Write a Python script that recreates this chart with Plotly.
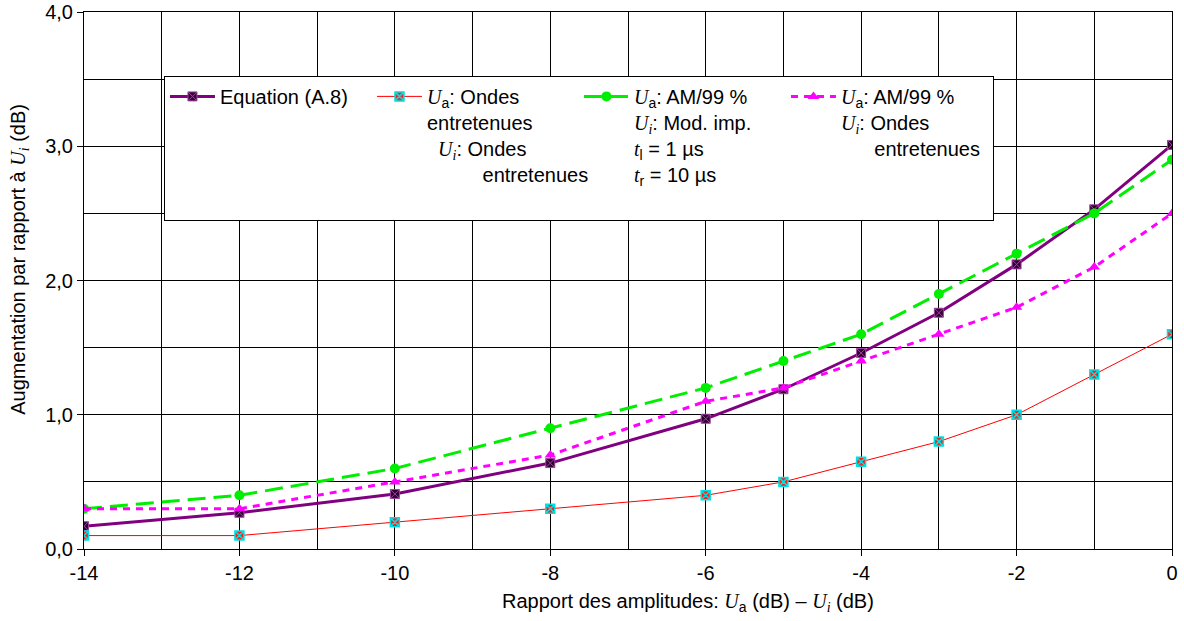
import plotly.graph_objects as go

# valeurs
x_db = [-14, -12, -10, -8, -6, -5, -4, -3, -2, -1, 0]
eq_a8 = [0.17, 0.27, 0.41, 0.64, 0.97, 1.19, 1.46, 1.76, 2.12, 2.53, 3.01]
ondes_ent = [0.10, 0.10, 0.20, 0.30, 0.40, 0.50, 0.65, 0.80, 1.00, 1.30, 1.60]
am99_mod = [0.30, 0.40, 0.60, 0.90, 1.20, 1.40, 1.60, 1.90, 2.20, 2.50, 2.90]
am99_ondes = [0.30, 0.30, 0.50, 0.70, 1.10, 1.20, 1.40, 1.60, 1.80, 2.10, 2.50]

x_ticks = [-14, -12, -10, -8, -6, -4, -2, 0]
x_ticktext = ['-14', '-12', '-10', '-8', '-6', '-4', '-2', '0']
y_ticks = [0, 1, 2, 3, 4]

FONT = 'Liberation Sans, Arial, sans-serif'
NB = '\u00a0'
SERIF = "<span style='font-family:Liberation Serif'>"


def U(sub, italic_sub=False):
    if italic_sub:
        return SERIF + '<i>U<sub>' + sub + '</sub></i></span>'
    return SERIF + '<i>U</i></span><sub>' + sub + '</sub>'


def T(sub):
    return SERIF + '<i>t</i></span><sub>' + sub + '</sub>'


fig = go.Figure()

fig.add_trace(go.Scatter(
    x=x_db, y=eq_a8, mode='lines+markers',
    name='Equation (A.8)',
    line=dict(color='#800080', width=3),
    marker=dict(symbol='square-x', size=9, color='#300030',
                line=dict(color='#a040a0', width=1))
))

fig.add_trace(go.Scatter(
    x=x_db, y=ondes_ent, mode='lines+markers',
    name=(U('a') + ': Ondes<br>entretenues<br>' + NB * 2 + U('i', True)
          + ': Ondes<br>' + NB * 10 + 'entretenues'),
    line=dict(color='#ff0000', width=1),
    marker=dict(symbol='square-x', size=9, color='#ff2020',
                line=dict(color='#00e0e0', width=1.5))
))

fig.add_trace(go.Scatter(
    x=x_db, y=am99_mod, mode='lines+markers',
    name=(U('a') + ': AM/99 %<br>' + U('i', True) + ': Mod. imp.<br>'
          + T('l') + ' = 1 µs<br>' + T('r') + ' = 10 µs<br>' + NB),
    line=dict(color='#00ee00', width=3, dash='18px,8px'),
    marker=dict(symbol='circle', size=10, color='#00ee00')
))

fig.add_trace(go.Scatter(
    x=x_db, y=am99_ondes, mode='lines+markers',
    name=(U('a') + ': AM/99 %<br>' + U('i', True) + ': Ondes<br>'
          + NB * 6 + 'entretenues'),
    line=dict(color='#ff00ff', width=3, dash='7px,6px'),
    marker=dict(symbol='triangle-up', size=10, color='#ff00ff')
))

fig.update_layout(
    width=1184, height=621,
    margin=dict(l=84, r=12, t=12, b=72),
    paper_bgcolor='white', plot_bgcolor='white',
    font=dict(family=FONT, size=20, color='black'),
    separators=', ',
    showlegend=True,
    legend=dict(
        orientation='h', x=0.0735, y=0.881, xanchor='left', yanchor='top',
        bgcolor='white', bordercolor='black', borderwidth=1,
        valign='top', entrywidth=147, entrywidthmode='pixels',
        font=dict(size=20), itemwidth=45
    ),
    xaxis=dict(
        range=[-14, 0], tickvals=x_ticks, ticktext=x_ticktext,
        ticks='outside', ticklen=6, tickcolor='black', automargin=False,
        showline=True, linecolor='black', linewidth=1, mirror=True,
        showgrid=True, gridcolor='black', gridwidth=1,
        minor=dict(dtick=1, showgrid=True, gridcolor='black', gridwidth=1),
        zeroline=False
    ),
    yaxis=dict(
        range=[0, 4], tickvals=y_ticks, tickformat='.1f',
        ticks='outside', ticklen=6, tickcolor='black', automargin=False,
        showline=True, linecolor='black', linewidth=1, mirror=True,
        showgrid=True, gridcolor='black', gridwidth=1,
        minor=dict(dtick=0.5, showgrid=True, gridcolor='black', gridwidth=1),
        zeroline=False
    ),
    annotations=[
        dict(text='Rapport des amplitudes: ' + U('a') + ' (dB) \u2013 '
             + U('i', True) + ' (dB)',
             xref='paper', yref='paper', x=0.555, y=-0.1,
             xanchor='center', yanchor='middle', showarrow=False),
        dict(text='Augmentation par rapport à ' + U('i', True) + ' (dB)',
             xref='paper', yref='paper', x=-0.06, y=0.54,
             xanchor='center', yanchor='middle', textangle=-90,
             showarrow=False),
    ]
)

fig.write_html('out.html', config={'displayModeBar': False},
               post_script="document.body.style.margin='0';"
                           "document.body.style.overflow='hidden';")
